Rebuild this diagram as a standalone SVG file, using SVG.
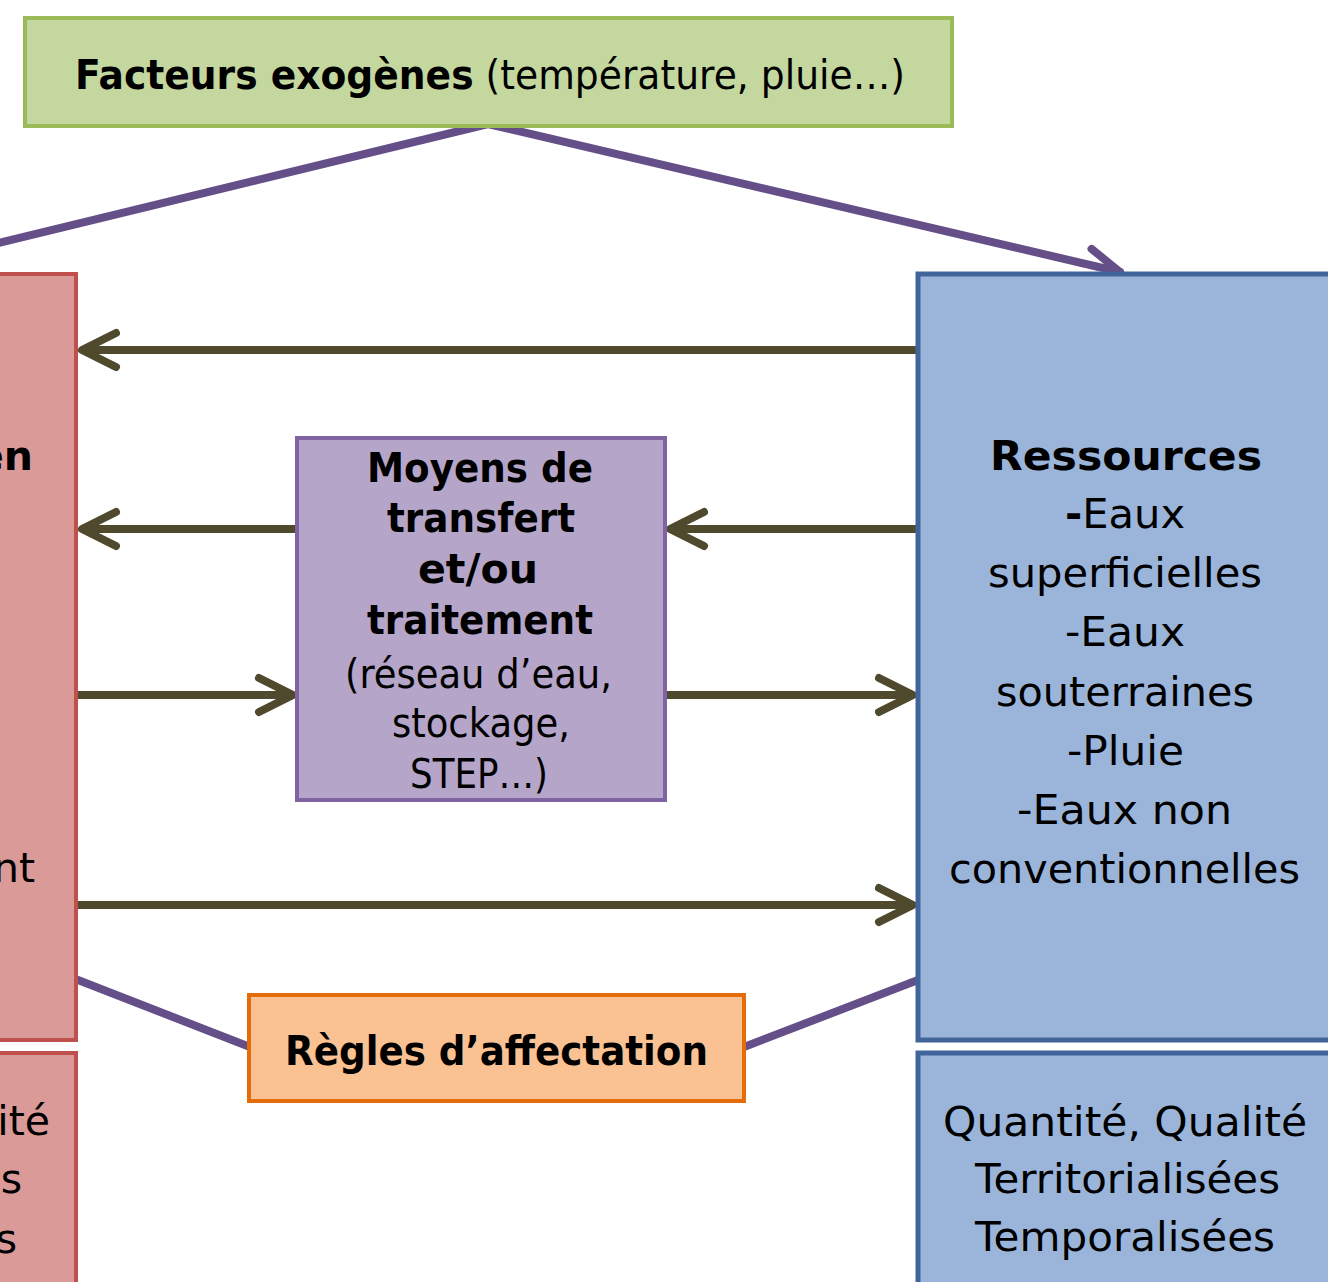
<svg xmlns="http://www.w3.org/2000/svg" width="1328" height="1282" viewBox="0 0 1328 1282">
<style>
text{font-family:"DejaVu Sans","Liberation Sans",sans-serif;font-size:41px;fill:#000}
.b{font-weight:bold}
.olive{stroke:#4F4A2D;stroke-width:8;fill:none}
.purp{stroke:#654F88;stroke-width:8;fill:none;stroke-linecap:round}
</style>
<defs>
<marker id="ao" markerUnits="userSpaceOnUse" markerWidth="60" markerHeight="60" viewBox="-45 -30 60 60" refX="0" refY="0" orient="auto" overflow="visible">
<path d="M-34,-17 L0,0 L-34,17" fill="none" stroke="#4F4A2D" stroke-width="8" stroke-linecap="round" stroke-linejoin="round"/>
</marker>
<marker id="ap" markerUnits="userSpaceOnUse" markerWidth="60" markerHeight="60" viewBox="-45 -30 60 60" refX="0" refY="0" orient="auto" overflow="visible">
<path d="M-33,-16 L0,0 L-33,16" fill="none" stroke="#654F88" stroke-width="8" stroke-linecap="round" stroke-linejoin="round"/>
</marker>
</defs>
<rect width="1328" height="1282" fill="#fff"/>

<g id="connectors">
<line class="purp" x1="488" y1="124" x2="-10" y2="245"/>
<line class="purp" x1="488" y1="124" x2="1120" y2="272" marker-end="url(#ap)"/>
<line class="olive" x1="918" y1="350" x2="82" y2="350" marker-end="url(#ao)"/>
<line class="olive" x1="297" y1="529" x2="82" y2="529" marker-end="url(#ao)"/>
<line class="olive" x1="918" y1="529" x2="670" y2="529" marker-end="url(#ao)"/>
<line class="olive" x1="77" y1="695" x2="293" y2="695" marker-end="url(#ao)"/>
<line class="olive" x1="666" y1="695" x2="913" y2="695" marker-end="url(#ao)"/>
<line class="olive" x1="77" y1="905" x2="913" y2="905" marker-end="url(#ao)"/>
<line class="purp" x1="78" y1="980" x2="250" y2="1047"/>
<line class="purp" x1="744" y1="1047" x2="918" y2="980"/>
</g>

<g id="facteurs">
<rect x="25" y="18" width="927" height="108" fill="#C4D79F" stroke="#9BBB59" stroke-width="4"/>
<text x="75" y="89" textLength="830" lengthAdjust="spacingAndGlyphs"><tspan class="b">Facteurs exogènes</tspan> (température, pluie…)</text>
</g>

<g id="usages">
<rect x="-20" y="274" width="96" height="766" fill="#DA9A98" stroke="#C0504D" stroke-width="4"/>
<text class="b" x="33" y="470" text-anchor="end">en</text>
<text x="35" y="882" text-anchor="end">nt</text>
</g>

<g id="usages-qualite">
<rect x="-20" y="1053" width="96" height="260" fill="#DA9A98" stroke="#C0504D" stroke-width="4"/>
<text x="50" y="1135" text-anchor="end">ité</text>
<text x="22" y="1193" text-anchor="end">s</text>
<text x="17" y="1253" text-anchor="end">s</text>
</g>

<g id="moyens">
<rect x="297" y="438" width="368" height="362" fill="#B4A5C9" stroke="#8064A2" stroke-width="4"/>
<text class="b" x="367" y="482" textLength="226" lengthAdjust="spacingAndGlyphs">Moyens de</text>
<text class="b" x="387" y="532" textLength="188" lengthAdjust="spacingAndGlyphs">transfert</text>
<text class="b" x="418" y="583" textLength="120" lengthAdjust="spacingAndGlyphs">et/ou</text>
<text class="b" x="367" y="634" textLength="226" lengthAdjust="spacingAndGlyphs">traitement</text>
<text x="345" y="688" textLength="267" lengthAdjust="spacingAndGlyphs">(réseau d’eau,</text>
<text x="392" y="737" textLength="178" lengthAdjust="spacingAndGlyphs">stockage,</text>
<text x="410" y="788" textLength="138" lengthAdjust="spacingAndGlyphs">STEP…)</text>
</g>

<g id="ressources">
<rect x="918" y="274" width="430" height="766" fill="#9BB5DA" stroke="#41659A" stroke-width="5"/>
<text class="b" x="990" y="470" textLength="272" lengthAdjust="spacingAndGlyphs">Ressources</text>
<text x="1065" y="528" textLength="120" lengthAdjust="spacingAndGlyphs"><tspan class="b">-</tspan>Eaux</text>
<text x="988" y="587" textLength="274" lengthAdjust="spacingAndGlyphs">superficielles</text>
<text x="1065" y="646" textLength="120" lengthAdjust="spacingAndGlyphs">-Eaux</text>
<text x="996" y="706" textLength="258" lengthAdjust="spacingAndGlyphs">souterraines</text>
<text x="1067" y="765" textLength="117" lengthAdjust="spacingAndGlyphs">-Pluie</text>
<text x="1017" y="824" textLength="215" lengthAdjust="spacingAndGlyphs">-Eaux non</text>
<text x="949" y="883" textLength="351" lengthAdjust="spacingAndGlyphs">conventionnelles</text>
</g>

<g id="ressources-qualite">
<rect x="918" y="1053" width="430" height="260" fill="#9BB5DA" stroke="#41659A" stroke-width="5"/>
<text x="943" y="1136" textLength="364" lengthAdjust="spacingAndGlyphs">Quantité, Qualité</text>
<text x="975" y="1193" textLength="305" lengthAdjust="spacingAndGlyphs">Territorialisées</text>
<text x="975" y="1251" textLength="300" lengthAdjust="spacingAndGlyphs">Temporalisées</text>
</g>

<g id="regles">
<rect x="249" y="995" width="495" height="106" fill="#FAC292" stroke="#E46C0A" stroke-width="4"/>
<text class="b" x="285" y="1065" textLength="423" lengthAdjust="spacingAndGlyphs">Règles d’affectation</text>
</g>
</svg>
